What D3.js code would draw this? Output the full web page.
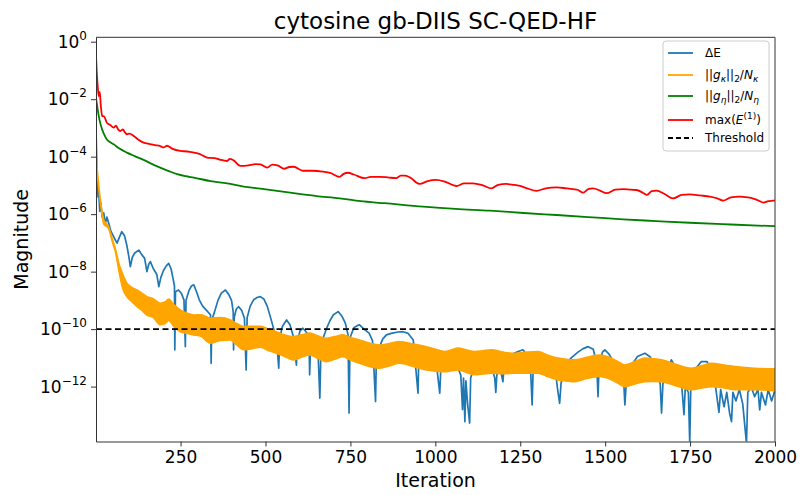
<!DOCTYPE html>
<html lang="en">
<head>
<meta charset="UTF-8">
<title>cytosine gb-DIIS SC-QED-HF</title>
<script src="https://cdn.jsdelivr.net/npm/d3@7/dist/d3.min.js"></script>
<style>
  body { margin: 0; background: #fff; }
  svg { display: block; font-family: "DejaVu Sans", sans-serif; }
</style>
</head>
<body>
<svg id="chart" width="801" height="495"></svg>
<script>
// values; magnitudes are stored as log10 exponents
const iterTicks = [250, 500, 750, 1000, 1250, 1500, 1750, 2000];
const magTicks = [0, -2, -4, -6, -8, -10, -12];
const threshold = 1e-10;

// dE
const deIter = [1,4,7,9,12,15,19,24,28,33,38,45,53,58,63,70,77,85,92,98,102,108,115,127,135,144,151,156,161,170,180,186,192,200,208,215,222,228,232,233,235,244,252,260,264,266,275,282,289,297,305,315,325,338,340,342,350,360,370,382,392,400,405,406,408,414,421,430,438,443,446,455,465,475,485,495,505,515,525,535,539,542,550,562,572,582,591,594,602,610,620,628,630,633,645,655,660,663,670,680,690,700,714,725,735,743,746,749,760,770,777,790,805,815,824,827,836,845,856,870,890,905,920,935,949,952,965,975,990,1005,1013,1016,1030,1050,1065,1075,1080,1083,1087,1090,1095,1101,1104,1115,1130,1140,1150,1160,1170,1175,1178,1181,1190,1199,1203,1215,1230,1244,1258,1270,1280,1285,1288,1300,1320,1340,1355,1360,1366,1370,1380,1400,1420,1435,1450,1465,1475,1479,1482,1492,1499,1510,1525,1545,1555,1558,1562,1575,1595,1617,1632,1650,1662,1666,1670,1680,1695,1710,1725,1732,1736,1745,1749,1752,1765,1783,1800,1815,1825,1835,1840,1850,1858,1866,1872,1876,1885,1895,1905,1916,1920,1930,1940,1950,1955,1960,1972,1980,1990,2000];
const deLog = [-3.0,-4.6,-5.4,-5.2,-5.9,-5.6,-6.1,-5.96,-6.35,-6.1,-6.3,-6.6,-6.78,-6.9,-7.01,-6.8,-6.61,-6.75,-7.1,-7.5,-7.83,-7.5,-7.35,-7.25,-7.4,-7.53,-8.0,-7.75,-7.65,-7.9,-8.1,-8.52,-8.2,-7.95,-7.8,-7.71,-7.9,-8.25,-8.5,-10.72,-8.7,-8.64,-8.75,-8.98,-10.61,-9.0,-8.65,-8.5,-8.46,-8.7,-8.98,-9.2,-9.33,-9.5,-11.19,-9.68,-9.4,-9.0,-8.75,-8.64,-8.8,-9.0,-9.4,-10.72,-9.6,-9.3,-9.22,-9.35,-9.62,-11.42,-9.6,-9.2,-8.98,-8.9,-8.87,-8.95,-9.2,-9.6,-10.03,-10.72,-11.36,-10.3,-9.9,-9.68,-9.85,-10.26,-11.25,-10.4,-10.05,-9.97,-10.1,-10.26,-11.59,-10.5,-10.61,-10.9,-12.4,-10.8,-10.3,-9.97,-9.7,-9.5,-9.39,-9.55,-9.79,-10.2,-12.92,-10.3,-9.95,-9.88,-9.85,-10.0,-10.14,-10.4,-12.52,-10.6,-10.61,-10.35,-10.2,-10.15,-10.1,-10.09,-10.15,-10.38,-12.23,-10.6,-11.3,-11.1,-11.2,-11.4,-12.23,-11.4,-11.2,-11.1,-11.3,-11.6,-12.8,-11.7,-13.22,-11.8,-12.6,-13.27,-11.7,-11.3,-11.1,-11.0,-11.1,-11.3,-11.5,-11.7,-12.2,-11.6,-11.3,-11.83,-11.2,-11.0,-10.85,-10.78,-10.72,-10.9,-11.3,-12.64,-11.4,-11.2,-11.1,-11.2,-11.6,-12.1,-12.58,-11.9,-11.3,-11.0,-10.8,-10.68,-10.61,-10.7,-11.2,-12.35,-11.3,-10.8,-10.72,-10.85,-11.13,-11.5,-11.9,-12.64,-11.9,-11.3,-10.95,-10.84,-10.96,-11.4,-11.9,-12.92,-11.9,-11.5,-11.07,-11.4,-11.9,-12.98,-12.0,-12.2,-13.97,-12.1,-11.4,-11.13,-11.13,-11.5,-12.0,-12.9,-12.1,-12.7,-12.2,-12.9,-13.22,-12.2,-12.5,-12.1,-12.6,-13.97,-12.2,-12.0,-12.35,-12.1,-12.81,-12.2,-12.64,-12.1,-12.5,-12.11];

// ||g_kappa||_2 / N_kappa : fast oscillation drawn as its upper / lower envelope
const kapIter = [1,5,10,14,24,38,50,58,68,80,92,107,122,136,151,170,190,205,215,230,249,270,289,310,338,365,397,415,436,460,485,510,532,556,581,605,630,655,679,703,728,752,777,805,836,865,895,935,974,1000,1028,1048,1067,1090,1116,1140,1165,1200,1234,1270,1302,1330,1361,1385,1410,1445,1484,1508,1533,1558,1590,1617,1640,1666,1690,1715,1754,1785,1813,1850,1882,1940,2000];
const kapHi = [-3.9,-4.5,-5.1,-5.5,-6.2,-6.43,-6.9,-7.2,-7.7,-8.1,-8.4,-8.55,-8.64,-8.75,-8.87,-8.95,-9.1,-9.05,-8.95,-9.15,-9.33,-9.45,-9.51,-9.5,-9.62,-9.6,-9.68,-9.8,-9.91,-9.9,-9.9,-10.0,-10.09,-10.2,-10.26,-10.2,-10.14,-10.24,-10.32,-10.26,-10.2,-10.3,-10.38,-10.48,-10.55,-10.5,-10.43,-10.52,-10.61,-10.7,-10.78,-10.72,-10.66,-10.72,-10.78,-10.75,-10.72,-10.8,-10.84,-10.8,-10.78,-10.9,-11.01,-11.05,-11.07,-10.98,-10.9,-10.96,-11.1,-11.25,-11.12,-11.01,-11.03,-11.07,-11.15,-11.25,-11.36,-11.27,-11.19,-11.25,-11.3,-11.36,-11.38];
const kapLo = [-3.9,-4.6,-5.2,-5.6,-6.35,-6.5,-7.0,-7.3,-7.95,-8.6,-8.87,-9.05,-9.22,-9.35,-9.51,-9.6,-9.85,-9.8,-9.7,-9.9,-10.09,-10.15,-10.2,-10.25,-10.49,-10.4,-10.38,-10.55,-10.72,-10.68,-10.63,-10.75,-10.84,-10.95,-11.07,-10.98,-10.9,-11.02,-11.13,-11.05,-10.96,-11.08,-11.19,-11.3,-11.36,-11.28,-11.19,-11.3,-11.42,-11.46,-11.48,-11.45,-11.42,-11.5,-11.59,-11.56,-11.53,-11.55,-11.53,-11.53,-11.53,-11.65,-11.77,-11.8,-11.83,-11.72,-11.65,-11.71,-11.85,-12.0,-11.9,-11.83,-11.82,-11.83,-11.9,-12.0,-12.11,-12.05,-12.0,-12.05,-12.11,-12.11,-12.14];

// ||g_eta||_2 / N_eta
const etaIter = [1,4,9,14,19,26,33,43,53,70,92,115,141,165,190,215,240,265,289,338,387,436,485,534,583,650,718,780,850,964,1060,1160,1260,1357,1450,1553,1650,1749,1870,2000];
const etaLog = [-1.96,-2.2,-2.58,-2.85,-3.05,-3.25,-3.4,-3.5,-3.57,-3.72,-3.86,-3.98,-4.11,-4.25,-4.38,-4.5,-4.61,-4.68,-4.73,-4.85,-4.93,-5.04,-5.11,-5.19,-5.27,-5.37,-5.45,-5.55,-5.62,-5.74,-5.82,-5.88,-5.96,-6.03,-6.1,-6.18,-6.24,-6.3,-6.36,-6.42];

// max(E^(1))
const maxIter = [1,3,6,9,12,15,19,25,33,43,53,60,66,73,80,86,92,100,112,125,141,160,175,190,200,210,225,249,270,289,305,328,350,365,387,395,405,426,450,470,485,505,520,535,555,570,583,610,640,669,690,718,730,743,760,792,810,836,860,885,898,910,925,954,975,1003,1030,1062,1085,1111,1140,1165,1185,1209,1230,1249,1270,1298,1325,1357,1385,1406,1420,1435,1450,1464,1485,1504,1530,1553,1575,1592,1610,1622,1637,1651,1675,1700,1725,1749,1780,1808,1830,1847,1870,1896,1920,1936,1950,1966,1980,1995,2000];
const maxLog = [-0.5,-1.0,-1.54,-1.9,-1.75,-2.2,-2.58,-2.6,-2.82,-2.9,-2.99,-2.92,-3.05,-3.11,-3.05,-3.15,-3.22,-3.2,-3.28,-3.4,-3.51,-3.56,-3.6,-3.63,-3.68,-3.62,-3.72,-3.8,-3.82,-3.86,-3.9,-4.03,-4.05,-4.1,-4.15,-4.08,-4.12,-4.32,-4.3,-4.26,-4.27,-4.38,-4.28,-4.3,-4.42,-4.36,-4.35,-4.49,-4.49,-4.52,-4.56,-4.7,-4.6,-4.56,-4.62,-4.75,-4.7,-4.7,-4.72,-4.75,-4.66,-4.66,-4.72,-4.95,-4.86,-4.81,-4.88,-5.02,-4.93,-4.93,-5.0,-5.1,-4.98,-4.95,-4.98,-5.02,-5.1,-5.19,-5.1,-5.07,-5.1,-5.13,-5.16,-5.25,-5.13,-5.1,-5.18,-5.27,-5.15,-5.13,-5.15,-5.16,-5.25,-5.33,-5.2,-5.18,-5.3,-5.45,-5.33,-5.31,-5.35,-5.39,-5.45,-5.53,-5.42,-5.39,-5.42,-5.46,-5.52,-5.6,-5.55,-5.53,-5.52];

const pow = e => Math.pow(10, e);
const dE = deIter.map((it, i) => ({x: it, y: pow(deLog[i])}));
const kap = kapIter.map((it, i) => ({x: it, hi: pow(kapHi[i]), lo: pow(kapLo[i])}));
const eta = etaIter.map((it, i) => ({x: it, y: pow(etaLog[i])}));
const maxE = maxIter.map((it, i) => ({x: it, y: pow(maxLog[i])}));

const svg = d3.select("#chart");
const margin = {top: 37.3, right: 26, bottom: 53.5, left: 96};
const W = 801, H = 495;
const width = W - margin.left - margin.right;
const height = H - margin.top - margin.bottom;

const x = d3.scaleLinear().domain([1, 2000]).range([0, width]);
const y = d3.scaleLog().domain([pow(-13.91), pow(0.153)]).range([height, 0]);

const g = svg.append("g").attr("transform", `translate(${margin.left},${margin.top})`);

g.append("clipPath").attr("id", "clip")
  .append("rect").attr("width", width).attr("height", height);

const plot = g.append("g").attr("clip-path", "url(#clip)");

const line = d3.line().x(d => x(d.x)).y(d => y(d.y));

plot.append("path").datum(dE)
  .attr("d", line)
  .attr("fill", "none").attr("stroke", "#1f77b4").attr("stroke-width", 1.7)
  .attr("stroke-linejoin", "round");

// orange band
const band = d3.area().x(d => x(d.x)).y0(d => y(d.lo)).y1(d => y(d.hi)).curve(d3.curveMonotoneX);
plot.append("path").datum(kap)
  .attr("d", band)
  .attr("fill", "orange").attr("stroke", "orange").attr("stroke-width", 1.6);

plot.append("path").datum(eta)
  .attr("d", line.curve(d3.curveMonotoneX))
  .attr("fill", "none").attr("stroke", "green").attr("stroke-width", 1.8);

plot.append("path").datum(maxE)
  .attr("d", line.curve(d3.curveMonotoneX))
  .attr("fill", "none").attr("stroke", "red").attr("stroke-width", 1.8);

plot.append("line")
  .attr("x1", 0).attr("x2", width)
  .attr("y1", y(threshold)).attr("y2", y(threshold))
  .attr("stroke", "black").attr("stroke-width", 1.8).attr("stroke-dasharray", "6,3.5");

// axes
const xAxis = g.append("g").attr("transform", `translate(0,${height})`)
  .call(d3.axisBottom(x).tickValues(iterTicks).tickSize(5).tickSizeOuter(0).tickPadding(4).tickFormat(d3.format("d")));
xAxis.selectAll("text").attr("font-size", 17).attr("font-family", "DejaVu Sans").attr("fill", "#000");

const yAxis = g.append("g")
  .call(d3.axisLeft(y).tickValues(magTicks.map(pow)).tickSize(5).tickSizeOuter(0).tickFormat(""));

g.selectAll(".domain").attr("stroke", "#333");
g.selectAll(".tick line").attr("stroke", "#333");

// top and right spines
g.append("line").attr("x1", 0).attr("x2", width).attr("y1", 0).attr("y2", 0).attr("stroke", "#333");
g.append("line").attr("x1", width).attr("x2", width).attr("y1", 0).attr("y2", height).attr("stroke", "#333");

const yLab = g.append("g").selectAll("text").data(magTicks).join("text")
  .attr("x", -9).attr("y", d => y(pow(d)) + 6)
  .attr("text-anchor", "end").attr("font-size", 17).attr("fill", "#000");
yLab.append("tspan").text("10");
yLab.append("tspan").attr("dy", -8).attr("font-size", 12)
  .text(d => d === 0 ? "0" : "\u2212" + Math.abs(d));

// labels
svg.append("text").attr("x", margin.left + width / 2).attr("y", 29)
  .attr("text-anchor", "middle").attr("font-size", 23)
  .text("cytosine gb-DIIS SC-QED-HF");
svg.append("text").attr("x", margin.left + width / 2).attr("y", 487)
  .attr("text-anchor", "middle").attr("font-size", 19)
  .text("Iteration");
svg.append("text").attr("transform", `translate(28,${margin.top + height / 2}) rotate(-90)`)
  .attr("text-anchor", "middle").attr("font-size", 19)
  .text("Magnitude");

// legend
const lg = svg.append("g");
lg.append("rect").attr("x", 663).attr("y", 41).attr("width", 106).attr("height", 110)
  .attr("rx", 3).attr("fill", "#fff").attr("fill-opacity", 0.8).attr("stroke", "#ccc");

const legendRows = [
  {c: "#1f77b4", yy: 53, dash: null},
  {c: "orange", yy: 75, dash: null},
  {c: "green", yy: 96, dash: null},
  {c: "red", yy: 120, dash: null},
  {c: "black", yy: 138, dash: "5,3"}
];
legendRows.forEach(r => {
  lg.append("line").attr("x1", 668).attr("x2", 693).attr("y1", r.yy).attr("y2", r.yy)
    .attr("stroke", r.c).attr("stroke-width", 1.8).attr("stroke-dasharray", r.dash);
});

const fs = 12;
function lt(yy) {
  return lg.append("text").attr("x", 705).attr("y", yy + 4).attr("font-size", fs).attr("fill", "#000");
}
lt(53).text("\u0394E");

function normLabel(t, sym) {
  t.append("tspan").text("||");
  t.append("tspan").attr("font-style", "italic").text("g");
  t.append("tspan").attr("font-style", "italic").attr("font-size", 9).attr("dy", 3).text(sym);
  t.append("tspan").attr("dy", -3).text("||");
  t.append("tspan").attr("font-size", 9).attr("dy", 3).text("2");
  t.append("tspan").attr("dy", -3).text("/");
  t.append("tspan").attr("font-style", "italic").text("N");
  t.append("tspan").attr("font-style", "italic").attr("font-size", 9).attr("dy", 3).text(sym);
}
normLabel(lt(75), "\u03ba");
normLabel(lt(96), "\u03b7");

const mt = lt(120);
mt.append("tspan").text("max(");
mt.append("tspan").attr("font-style", "italic").text("E");
mt.append("tspan").attr("font-size", 9).attr("dy", -5).text("(1)");
mt.append("tspan").attr("dy", 5).text(")");

lt(138).text("Threshold");
</script>
</body>
</html>
